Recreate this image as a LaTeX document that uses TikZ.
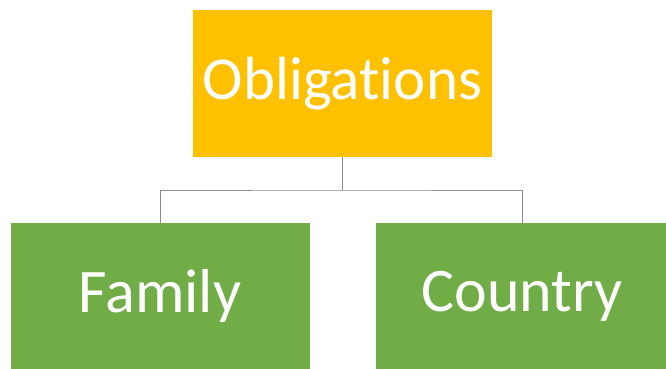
\documentclass[tikz,border=0pt]{standalone}
\usepackage{fontspec}
\setmainfont[Ligatures=NoCommon]{Carlito}
\definecolor{orangebox}{HTML}{FFC000}
\definecolor{greenbox}{HTML}{70AD47}
\definecolor{linegray}{HTML}{8C8C8C}
\begin{document}
\begin{tikzpicture}[x=1pt,y=-1pt,
  box/.style={draw=none,inner sep=0pt,text=white},
  conn/.style={draw=linegray,line width=1pt}]
\useasboundingbox[fill=white] (0,0) rectangle (666,368);
\node[box,fill=orangebox,minimum width=299pt,minimum height=147pt,
  font=\fontsize{61}{61}\selectfont] (obl) at (342.5,83.5) {Obligations};
\node[box,fill=greenbox,minimum width=299pt,minimum height=146pt,
  font=\fontsize{62}{62}\selectfont] (fam) at (160,296) {Family};
\node[box,fill=greenbox,minimum width=292pt,minimum height=146pt,
  font=\fontsize{62}{62}\selectfont] (cou) at (522,296) {Country};
\coordinate (mid) at (342.5,190);
\draw[conn] (obl.south) -- (mid);
\draw[conn] (fam.north) |- (mid) -| (cou.north);
\end{tikzpicture}
\end{document}
